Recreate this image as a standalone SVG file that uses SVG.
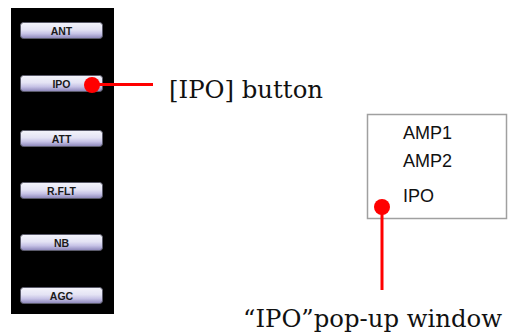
<svg xmlns="http://www.w3.org/2000/svg" width="508" height="334" viewBox="0 0 508 334">
  <defs>
    <linearGradient id="btnFill" x1="0" y1="0" x2="0" y2="1">
      <stop offset="0" stop-color="#f4f4fb"/>
      <stop offset="0.45" stop-color="#e4e3f4"/>
      <stop offset="0.7" stop-color="#c6c2e6"/>
      <stop offset="1" stop-color="#8a84b8"/>
    </linearGradient>
    <style>
      .btn rect { fill: url(#btnFill); stroke: #5a5a6a; stroke-width: 1; }
      .btn text { font-family: "Liberation Sans", Arial, sans-serif; font-weight: bold; font-size: 10.5px; fill: #1a1a1a; text-anchor: middle; }
      .menu { font-family: "Liberation Sans", Arial, sans-serif; font-size: 18px; fill: #111; }
      .label { font-family: "DejaVu Serif", "Liberation Serif", serif; font-size: 25px; fill: #111; }
      .lead { stroke: #ff0000; stroke-width: 3; fill: none; }
      .dot { fill: #ff0000; }
    </style>
  </defs>

  <rect width="508" height="334" fill="#ffffff"/>

  <!-- control panel -->
  <g id="panel">
    <rect x="11" y="8" width="103" height="306" fill="#000000"/>
  </g>
  <g id="btn-ant" class="btn">
    <rect x="20.5" y="22.5" width="82" height="16" rx="3"/>
    <text x="61.5" y="34.5">ANT</text>
  </g>
  <g id="btn-ipo" class="btn">
    <rect x="20.5" y="75.5" width="82" height="16" rx="3"/>
    <text x="61.5" y="87.5">IPO</text>
  </g>
  <g id="btn-att" class="btn">
    <rect x="20.5" y="130.5" width="82" height="16" rx="3"/>
    <text x="61.5" y="142.5">ATT</text>
  </g>
  <g id="btn-rflt" class="btn">
    <rect x="20.5" y="182.5" width="82" height="16" rx="3"/>
    <text x="61.5" y="194.5">R.FLT</text>
  </g>
  <g id="btn-nb" class="btn">
    <rect x="20.5" y="234.5" width="82" height="16" rx="3"/>
    <text x="61.5" y="246.5">NB</text>
  </g>
  <g id="btn-agc" class="btn">
    <rect x="20.5" y="287.5" width="82" height="16" rx="3"/>
    <text x="61.5" y="299.5">AGC</text>
  </g>

  <!-- pop-up menu -->
  <g id="popup">
    <rect x="367.5" y="114.5" width="139" height="104" fill="#ffffff" stroke="#a0a0a0" stroke-width="1.5"/>
    <text class="menu" x="403" y="139">AMP1</text>
    <text class="menu" x="403" y="167">AMP2</text>
    <text class="menu" x="403" y="202">IPO</text>
  </g>

  <!-- callout labels -->
  <g id="label-button">
    <text class="label" x="169" y="98" textLength="154" lengthAdjust="spacingAndGlyphs">[IPO] button</text>
  </g>
  <g id="label-popup">
    <text class="label" x="243" y="327" textLength="259" lengthAdjust="spacingAndGlyphs">“IPO”pop-up window</text>
  </g>

  <!-- leader lines -->
  <g id="connectors">
    <line class="lead" x1="92" y1="84.5" x2="153" y2="84.5"/>
    <circle class="dot" cx="92" cy="85" r="8"/>
    <line class="lead" x1="382" y1="207" x2="382" y2="290"/>
    <circle class="dot" cx="382" cy="207" r="8"/>
  </g>
</svg>
